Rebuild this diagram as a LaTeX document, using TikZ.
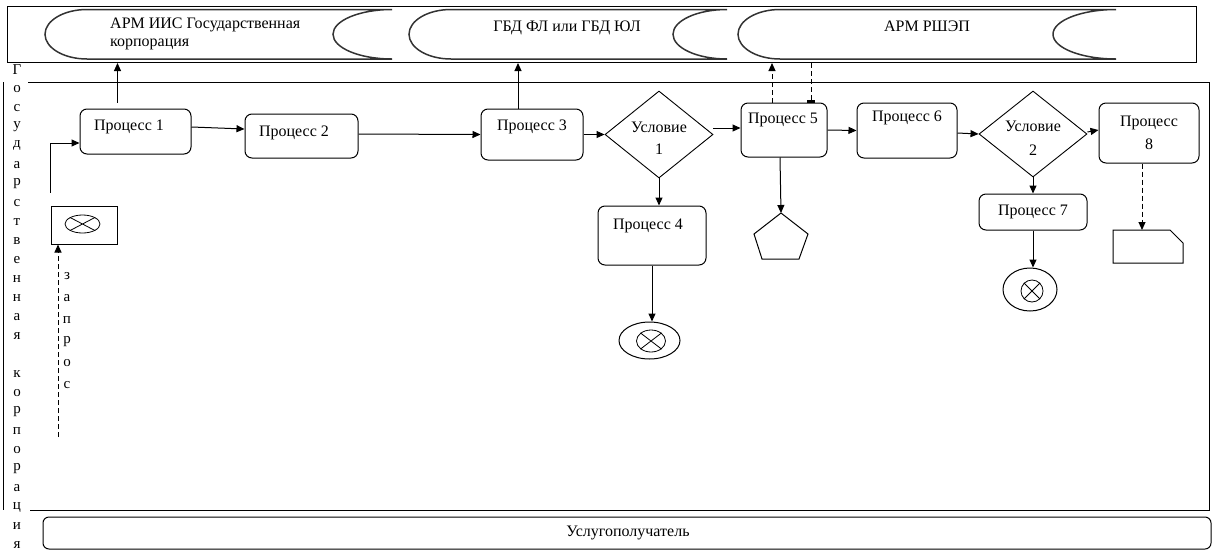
\documentclass[tikz,border=0pt]{standalone}
\usepackage{fontspec}
\setmainfont{Liberation Serif}
\usetikzlibrary{arrows.meta,shapes.geometric,calc}
\begin{document}
\begin{tikzpicture}[x=1pt,y=-1pt,
  proc/.style={draw, rounded corners=7pt, line width=1pt, inner sep=0pt},
  cond/.style={draw, diamond, line width=0.9pt, inner sep=0pt},
  lbl/.style={font=\fontsize{16}{18}\selectfont, inner sep=0pt},
  vlbl/.style={font=\fontsize{15}{17}\selectfont, inner sep=0pt},
  store/.style={line width=1.5pt, draw=black!80},
  arr/.style={line width=1pt, -{Triangle[length=8pt,width=7pt]}},
  darr/.style={arr, dash pattern=on 5pt off 3pt},
  evt/.style={draw, ellipse, line width=1pt, inner sep=0pt},
  xmark/.style={draw, ellipse, line width=0.8pt, inner sep=0pt}
]
\useasboundingbox (0,0) rectangle (1215,552);

% top pool
\node[draw, line width=1pt, minimum width=1189, minimum height=56, inner sep=0, anchor=north west] (topbox) at (7,6) {};
% data stores
\draw[store] (87,9.5) -- (392,9.5) arc[start angle=270, end angle=90, x radius=59, y radius=24.75]
  -- (87,59) arc[start angle=90, end angle=270, x radius=42, y radius=24.75] -- cycle;
\draw[store] (451,9.5) -- (727,9.5) arc[start angle=270, end angle=90, x radius=54, y radius=24.75]
  -- (451,59) arc[start angle=90, end angle=270, x radius=42, y radius=24.75] -- cycle;
\draw[store] (780,9.5) -- (1116,9.5) arc[start angle=270, end angle=90, x radius=63, y radius=24.75]
  -- (780,59) arc[start angle=90, end angle=270, x radius=42, y radius=24.75] -- cycle;
\node[lbl, align=left, anchor=west] (s1) at (110,34) {АРМ ИИС Государственная\\корпорация};
\node[lbl] (s2) at (567,28) {ГБД ФЛ или ГБД ЮЛ};
\node[lbl] (s3) at (927,26) {АРМ РШЭП};

% lane
\draw[line width=1pt] (28,82) -- (1209,82) -- (1209,510) -- (30,510);
\draw[line width=1pt] (3,82) -- (3,510);
\foreach \ch [count=\i] in {Г,о,с,у,д,а,р,с,т,в,е,н,н,а,я}
  \node[vlbl] (ga\i) at (17,{70+19*(\i-1)}) {\ch};
\foreach \ch [count=\i] in {к,о,р,п,о,р,а,ц,и,я}
  \node[vlbl] (gb\i) at (17,{374+19*(\i-1)}) {\ch};
\foreach \ch [count=\i] in {з,а,п,р,о,с}
  \node[vlbl] (q\i) at (67,{276+21.8*(\i-1)}) {\ch};

% start event
\node[draw, line width=1pt, minimum width=66, minimum height=38, inner sep=0] (start) at (84,225) {};
\node[xmark, minimum width=35, minimum height=18] (sm) at (82.5,224) {};
\draw[line width=0.8pt] (sm.north east) -- (sm.south west) (sm.north west) -- (sm.south east);

% processes
\node[proc, minimum width=111, minimum height=45] (p1) at (135.5,131.5) {};
\node[lbl] (p1t) at (129,127) {Процесс 1};
\node[proc, minimum width=113, minimum height=44] (p2) at (301.5,136) {};
\node[lbl] (p2t) at (294,133) {Процесс 2};
\node[proc, minimum width=102, minimum height=51] (p3) at (532,134.5) {};
\node[lbl] (p3t) at (532,127) {Процесс 3};
\node[proc, minimum width=108, minimum height=59] (p4) at (652,235.5) {};
\node[lbl] (p4t) at (648,226) {Процесс 4};
\node[proc, minimum width=86, minimum height=54] (p5) at (784,130) {};
\node[lbl] (p5t) at (783,120) {Процесс 5};
\node[proc, minimum width=100, minimum height=55] (p6) at (907,130.5) {};
\node[lbl] (p6t) at (907,118) {Процесс 6};
\node[proc, minimum width=108, minimum height=36] (p7) at (1033,212) {};
\node[lbl] (p7t) at (1033,212) {Процесс 7};
\node[proc, minimum width=100, minimum height=60] (p8) at (1149,133) {};
\node[lbl] (p8t) at (1149,123) {Процесс};
\node[lbl] (p8n) at (1149,144) {8};

% conditions
\node[cond, minimum width=108, minimum height=87] (d1) at (659,134.5) {};
\node[lbl] (d1a) at (659,127) {Условие};
\node[lbl] (d1b) at (659,149) {1};
\node[cond, minimum width=108, minimum height=86] (d2) at (1033,134) {};
\node[lbl] (d2a) at (1033,126) {Условие};
\node[lbl] (d2b) at (1033,150) {2};

% end events
\node[evt, minimum width=61, minimum height=37] (e1) at (649.5,340.5) {};
\node[xmark, minimum width=29, minimum height=22] (e1i) at (651,341) {};
\draw[line width=0.8pt] (e1i.north east) -- (e1i.south west) (e1i.north west) -- (e1i.south east);
\node[evt, minimum width=54, minimum height=43] (e2) at (1030,289.5) {};
\node[xmark, minimum width=22, minimum height=22] (e2i) at (1032,291) {};
\draw[line width=0.8pt] (e2i.north east) -- (e2i.south west) (e2i.north west) -- (e2i.south east);

% pentagon and document
\draw[line width=1pt] (781,213) -- (808,234) -- (799,259) -- (762,259) -- (754,234) -- cycle;
\coordinate (pentTop) at (781,213);
\draw[line width=1pt] (1113,230) -- (1170,230) -- (1183,243) -- (1183,263) -- (1113,263) -- cycle;
\coordinate (docTop) at (1142,230);

% recipient lane
\node[draw, rounded corners=6pt, line width=1pt, minimum width=1168, minimum height=32, inner sep=0] (client) at (627,533) {};
\node[lbl] (clientt) at (628,533) {Услугополучатель};

% connectors
\coordinate (req) at (58,437);
\draw[darr] (req) -- (req |- start.south);
\draw[arr] ([yshift=13]start.north west) |- ([yshift=-11.5]p1.west);
\coordinate (a1) at ([xshift=-18]p1.north);
\draw[arr] ([yshift=6]a1) -- (a1 |- topbox.south);
\draw[arr] ([yshift=4.5]p1.east) -- ([yshift=7]p2.west);
\draw[arr] ([yshift=2]p2.east) -- (p3.west);
\coordinate (a3) at ([xshift=-14]p3.north);
\draw[arr] (a3) -- (a3 |- topbox.south);
\draw[arr] (p3.east) -- (d1.west);
\draw[arr] (d1.south) -- (d1.south |- p4.north);
\draw[arr] (p4.south) -- (p4.south |- e1.north);
\draw[arr] ([yshift=6.5]d1.east) -- ([yshift=2]p5.west);
\coordinate (a5) at ([xshift=-12]p5.north);
\draw[darr] (a5) -- (a5 |- topbox.south);
\coordinate (b5) at ([xshift=27]p5.north);
\draw[line width=1pt, dash pattern=on 5pt off 3pt, -{Rectangle[length=3pt,width=8pt]}] (b5 |- topbox.south) -- (b5);
\draw[arr] ([xshift=-4]p5.south) -- (pentTop);
\draw[arr] (p5.east) -- (p6.west);
\draw[arr] ([yshift=-2.5]p6.east) -- (d2.west);
\draw[arr] ([yshift=2]d2.east) -- ([yshift=3]p8.west);
\draw[arr] (d2.south) -- (p7.north);
\draw[arr] (p7.south) -- (p7.south |- e2.north);
\draw[darr] ([xshift=-7]p8.south) -- (docTop);
\end{tikzpicture}
\end{document}
